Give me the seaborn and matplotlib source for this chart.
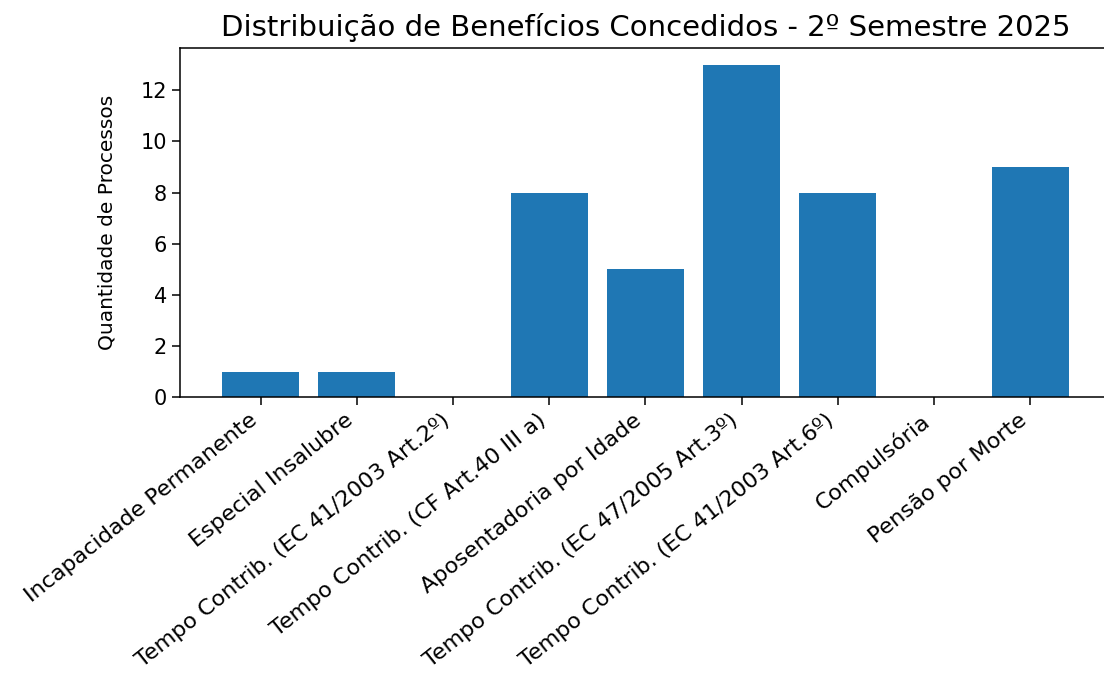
import numpy as np
import pandas as pd
import seaborn as sns
import matplotlib
matplotlib.use("Agg")
import matplotlib.pyplot as plt

# dados
categorias = [
    "Incapacidade Permanente",
    "Especial Insalubre",
    "Tempo Contrib. (EC 41/2003 Art.2º)",
    "Tempo Contrib. (CF Art.40 III a)",
    "Aposentadoria por Idade",
    "Tempo Contrib. (EC 47/2005 Art.3º)",
    "Tempo Contrib. (EC 41/2003 Art.6º)",
    "Compulsória",
    "Pensão por Morte",
]
quantidades = [1, 1, 0, 8, 5, 13, 8, 0, 9]

titulo = "Distribuição de Benefícios Concedidos - 2º Semestre 2025"
rotulo_y = "Quantidade de Processos"

df = pd.DataFrame({"Beneficio": categorias, "Quantidade": quantidades})

fig = plt.figure(figsize=(11.04, 6.8), dpi=100)
ax = fig.add_axes([0.163, 0.416, 0.8433, 0.5132])  # lado direito cortado como na imagem

sns.barplot(data=df, x="Beneficio", y="Quantidade", color="#1f77b4",
            saturation=1, width=0.8, ax=ax)

ax.set_xlim(-0.84, 8.84)
ax.set_ylim(0, 13.65)
ax.set_yticks([0, 2, 4, 6, 8, 10, 12])
ax.set_title(titulo, fontsize=21, pad=9)
ax.set_xlabel("")
ax.set_ylabel(rotulo_y, fontsize=14.5, labelpad=17)
ax.tick_params(axis="y", labelsize=15, length=6, width=1.1)
ax.tick_params(axis="x", labelsize=16, length=6, width=1.1)
# a imagem original parece esticada na horizontal, entao o angulo fica ~38 graus
plt.setp(ax.get_xticklabels(), rotation=38.5, ha="right")
for s in ax.spines.values():
    s.set_linewidth(1.1)

fig.savefig("out.png", dpi=100)
